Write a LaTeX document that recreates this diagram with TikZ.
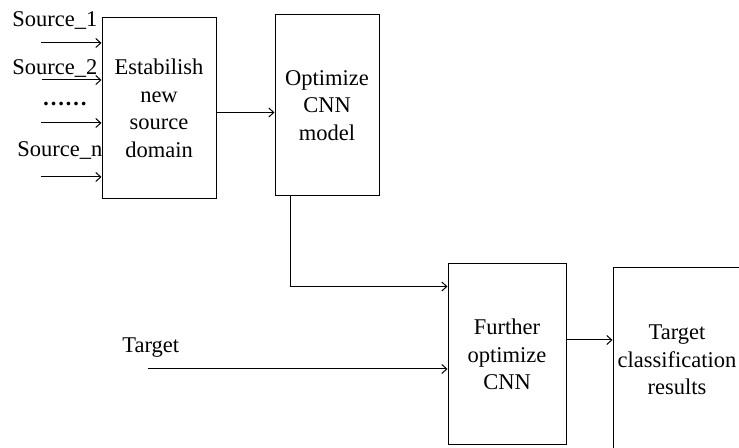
\documentclass[tikz,border=0pt]{standalone}
\usepackage{fontspec}
\setmainfont{Liberation Serif}
\usetikzlibrary{arrows.meta}
\begin{document}
\begin{tikzpicture}[x=0.5pt,y=-0.5pt,
  every node/.style={font=\fontsize{11.25}{13.75}\selectfont},
  block/.style={draw,line width=0.5pt,rectangle,align=center,inner sep=0pt,minimum height=90.5pt},
  lbl/.style={anchor=base west,inner sep=0pt},
  arr/.style={line width=0.5pt,-{Straight Barb[length=2.5pt,width=4.5pt,line width=0.5pt]}}]
\useasboundingbox (0,0) rectangle (739,448);
\clip (0,0) rectangle (739,448);

% processing blocks
\node[block,minimum width=57pt] (b1) at (159,108.5) {Estabilish\\new\\source\\domain};
\node[block,minimum width=52pt] (b2) at (327,105.5) {Optimize\\CNN\\model};
\node[block,minimum width=59pt] (b3) at (507,354.5) {Further\\optimize\\CNN};
\node[block,minimum width=64pt,minimum height=92pt] (b4) at (677,360) {Target\\classification\\results};

% input labels
\node[lbl] (l1) at (12,27) {Source\_1};
\node[lbl] (l2) at (12,75) {Source\_2};
\node[lbl] (ld) at (42,106) {\textbf{……}};
\node[lbl] (ln) at (17,157) {Source\_n};
\node[lbl] (lt) at (122,353) {Target};

% input arrow starts
\coordinate (s1) at (41,43);
\coordinate (s2) at (42,80);
\coordinate (s3) at (41,123);
\coordinate (s4) at (41,177);
\coordinate (tg) at (148,369);
\coordinate (m1) at (0,112.5);
\coordinate (m3) at (0,340);

\draw[arr] (s1) -- (s1 -| b1.west);
\draw[arr] (s2) -- (s2 -| b1.west);
\draw[arr] (s3) -- (s3 -| b1.west);
\draw[arr] (s4) -- (s4 -| b1.west);

\draw[arr] (b1.east |- m1) -- (b2.west |- m1);
\draw[arr] ([xshift=8pt]b2.south west) |- ([yshift=-11.5pt]b3.north west);
\draw[arr] (tg) -- (tg -| b3.west);
\draw[arr] (b3.east |- m3) -- (b4.west |- m3);
\end{tikzpicture}
\end{document}
